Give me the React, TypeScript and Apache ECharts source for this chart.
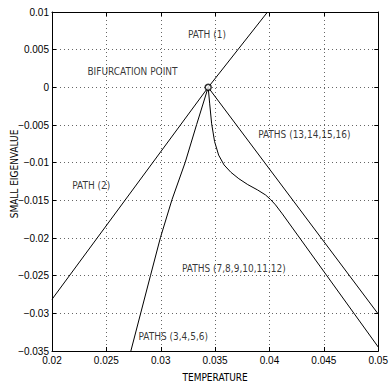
import React, { useEffect, useRef } from "react";
import * as echarts from "echarts";

// Axis ranges / ticks
const xMin = 0.02;
const xMax = 0.05;
const xStep = 0.005;
const yMin = -0.035;
const yMax = 0.01;
const yStep = 0.005;

const xAxisTitle = "TEMPERATURE";
const yAxisTitle = "SMALL EIGENVALUE";

// Bifurcation point (temperature, eigenvalue)
const bifurcation: [number, number][] = [[0.03436, 0]];

// Paths (temperature, small eigenvalue)
const path1: [number, number][] = [
  [0.03436, 0],
  [0.03982, 0.01],
];
const path2: [number, number][] = [
  [0.03436, 0],
  [0.02, -0.02814],
];
const paths3to6: [number, number][] = [
  [0.03436, 0],
  [0.0333, -0.00493],
  [0.03225, -0.00995],
  [0.03103, -0.01492],
  [0.02997, -0.01995],
  [0.02906, -0.02496],
  [0.02725, -0.035],
];
const paths7to12: [number, number][] = [
  [0.03436, 0],
  [0.0345, -0.00219],
  [0.03468, -0.00484],
  [0.03495, -0.0072],
  [0.03532, -0.00899],
  [0.03582, -0.0103],
  [0.03645, -0.01128],
  [0.03718, -0.01213],
  [0.038, -0.01291],
  [0.03891, -0.01363],
  [0.03964, -0.01429],
  [0.04009, -0.01488],
  [0.04055, -0.0156],
  [0.04118, -0.0168],
  [0.05, -0.03448],
];
const paths13to16: [number, number][] = [
  [0.03436, 0],
  [0.05, -0.0301],
];

// Annotation texts and their anchor (left edge, vertical middle) in data units
const annotationTexts = [
  "PATH (1)",
  "BIFURCATION POINT",
  "PATH (2)",
  "PATHS (13,14,15,16)",
  "PATHS (7,8,9,10,11,12)",
  "PATHS (3,4,5,6)",
];
const annotationAt: [number, number][] = [
  [0.032545, 0.00698],
  [0.0233, 0.00204],
  [0.02191, -0.01305],
  [0.039, -0.00634],
  [0.032, -0.0241],
  [0.028, -0.03308],
];

const FONT = "'DejaVu Sans Condensed', 'Liberation Sans', Arial, sans-serif";
const NUMFONT = "'Liberation Sans', Arial, sans-serif";
const FS = 10;

const fmt = (v: number) => String(Number(Number(v).toFixed(4))).replace("-", "\u2212");

export default function App() {
  const ref = useRef<HTMLDivElement>(null);
  useEffect(() => {
    if (!ref.current) return;
    const chart = echarts.init(ref.current, undefined, { renderer: "svg" });
    const lineSeries = (name: string, data: [number, number][]) => ({
      name,
      type: "line",
      data,
      xAxisIndex: 0,
      yAxisIndex: 0,
      showSymbol: false,
      symbol: "none",
      smooth: false,
      lineStyle: { color: "#000", width: 1 },
      silent: true,
      z: 3,
    });
    const gridSplit = {
      show: true,
      lineStyle: { color: "#666", width: 1, type: [1, 3] as any },
    };
    const axisLine = { show: true, onZero: false, lineStyle: { color: "#000", width: 1 } };
    const tick = { show: true, inside: true, length: 4, lineStyle: { color: "#000", width: 1 } };
    chart.setOption({
      animation: false,
      backgroundColor: "#fff",
      grid: { left: 52, right: 9, top: 12, height: 344, containLabel: false },
      xAxis: [
        {
          type: "value",
          min: xMin,
          max: xMax,
          interval: xStep,
          position: "bottom",
          axisLine,
          axisTick: tick,
          splitLine: gridSplit,
          axisLabel: {
            formatter: fmt,
            color: "#000",
            fontFamily: NUMFONT,
            fontSize: FS,
            margin: 4,
            showMinLabel: true,
            showMaxLabel: true,
          },
          name: xAxisTitle,
          nameLocation: "middle",
          nameGap: 21,
          nameTextStyle: { color: "#000", fontFamily: FONT, fontSize: FS },
        },
        {
          type: "value",
          min: xMin,
          max: xMax,
          interval: xStep,
          position: "top",
          axisLine,
          axisTick: tick,
          splitLine: { show: false },
          axisLabel: { show: false },
        },
      ],
      yAxis: [
        {
          type: "value",
          min: yMin,
          max: yMax,
          interval: yStep,
          position: "left",
          axisLine,
          axisTick: tick,
          splitLine: gridSplit,
          axisLabel: {
            formatter: fmt,
            color: "#000",
            fontFamily: NUMFONT,
            fontSize: FS,
            margin: 3,
            showMinLabel: true,
            showMaxLabel: true,
          },
        },
        {
          type: "value",
          min: yMin,
          max: yMax,
          interval: yStep,
          position: "right",
          axisLine,
          axisTick: tick,
          splitLine: { show: false },
          axisLabel: { show: false },
        },
      ],
      graphic: [
        {
          type: "text",
          x: 14,
          y: 174,
          rotation: Math.PI / 2,
          style: {
            text: yAxisTitle,
            fill: "#000",
            font: `${FS}px ${FONT}`,
            align: "center",
            verticalAlign: "middle",
          },
        },
      ],
      series: [
        lineSeries("PATH (1)", path1),
        lineSeries("PATH (2)", path2),
        lineSeries("PATHS (3,4,5,6)", paths3to6),
        lineSeries("PATHS (7,8,9,10,11,12)", paths7to12),
        lineSeries("PATHS (13,14,15,16)", paths13to16),
        {
          name: "bifurcation",
          type: "scatter",
          data: bifurcation,
          symbol: "circle",
          symbolSize: 6,
          itemStyle: { color: "#fff", borderColor: "#000", borderWidth: 1.5 },
          silent: true,
          z: 5,
        },
        {
          name: "annotations",
          type: "scatter",
          data: annotationAt.map((p, i) => ({ value: p, name: annotationTexts[i] })),
          symbol: "circle",
          symbolSize: 1,
          itemStyle: { color: "transparent" },
          silent: true,
          label: {
            show: true,
            formatter: (p: any) => p.name,
            position: [0, 0],
            align: "left",
            verticalAlign: "middle",
            color: "#000",
            fontFamily: FONT,
            fontSize: FS,
          },
          z: 6,
        },
      ],
    });
    return () => chart.dispose();
  }, []);
  return (
    <div
      ref={ref}
      style={{ position: "absolute", left: 0, top: 0, width: 391, height: 387 }}
    />
  );
}
